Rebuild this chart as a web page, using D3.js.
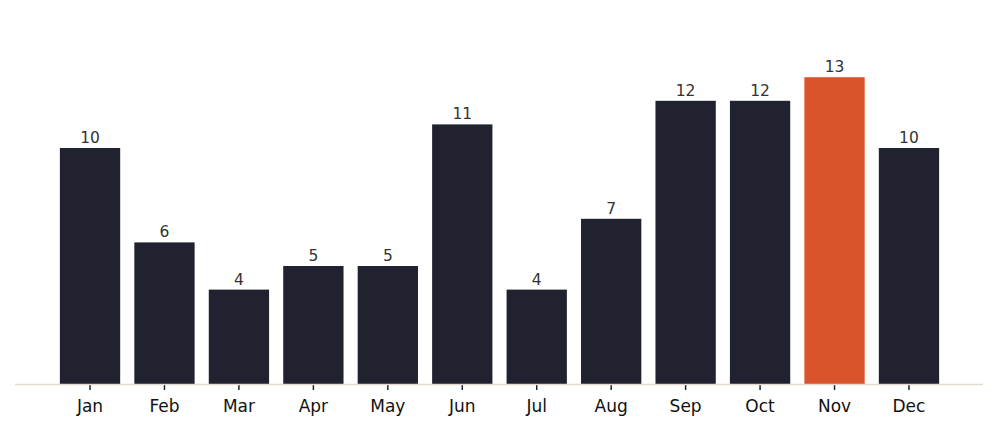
<!DOCTYPE html>
<html>
<head>
<meta charset="utf-8">
<script src="https://cdn.jsdelivr.net/npm/d3@7"></script>
<style>
body{margin:0;background:#fff;}
text{font-family:"DejaVu Sans",sans-serif;}
</style>
</head>
<body>
<svg id="chart" width="999" height="436"></svg>
<script>
var months = ["Jan","Feb","Mar","Apr","May","Jun","Jul","Aug","Sep","Oct","Nov","Dec"];
var counts = [10,6,4,5,5,11,4,7,12,12,13,10];
var highlight = "Nov";

var svg = d3.select("#chart");

var x = d3.scaleBand().domain(months).range([52.8,946.2])
    .paddingInner(0.19).paddingOuter(0.095);
var y = d3.scaleLinear().domain([0,15]).range([384,30]);

svg.selectAll("rect.bar").data(months).enter().append("rect")
    .attr("class","bar")
    .attr("x",function(d){return x(d);})
    .attr("width",x.bandwidth())
    .attr("y",function(d,i){return y(counts[i]);})
    .attr("height",function(d,i){return y(0)-y(counts[i]);})
    .attr("fill",function(d){return d==highlight ? "#d9542c" : "#20232f";});

svg.selectAll("text.val").data(months).enter().append("text")
    .attr("class","val")
    .attr("x",function(d){return x(d)+x.bandwidth()/2;})
    .attr("y",function(d,i){return y(counts[i])-5;})
    .attr("text-anchor","middle")
    .attr("font-size",15.5)
    .attr("fill","#333")
    .text(function(d,i){return counts[i];});

var ax = svg.append("g").attr("transform","translate(0,384)")
    .call(d3.axisBottom(x).tickSize(6).tickPadding(10));
ax.select(".domain").remove();
ax.selectAll(".tick line").attr("stroke","#20232f").attr("stroke-width",1.5);
ax.selectAll(".tick text").attr("font-size",17).attr("fill","#111")
    .style("font-family","DejaVu Sans, sans-serif");

svg.append("line").attr("x1",15).attr("x2",983).attr("y1",384.5).attr("y2",384.5)
    .attr("stroke","#e3dbd0").attr("stroke-width",1.5);
</script>
</body>
</html>
